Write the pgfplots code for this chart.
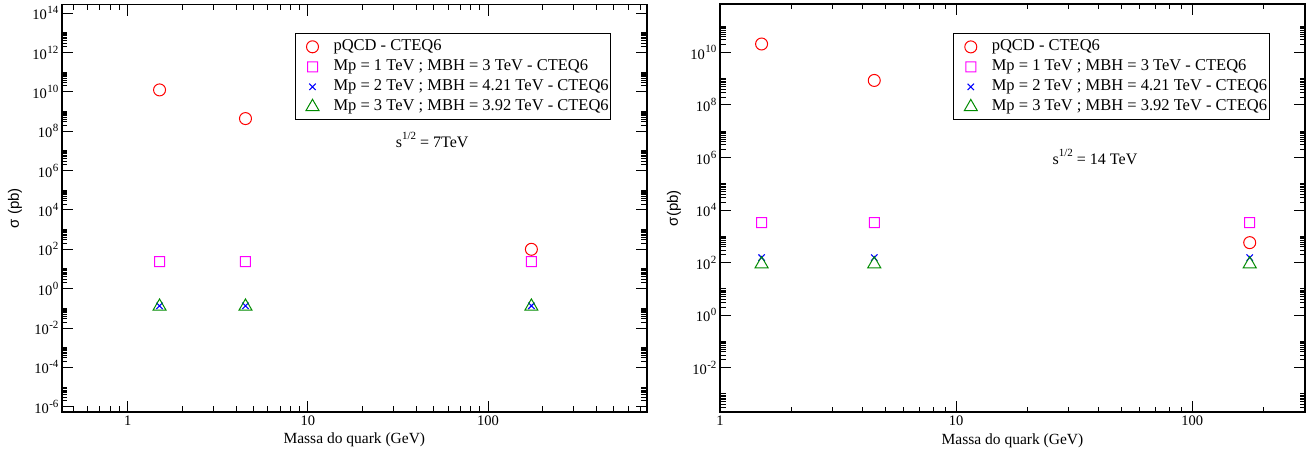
\documentclass[border=0pt]{standalone}
\usepackage{fontspec}
\setmainfont{Liberation Serif}
\newfontfamily\sansf{Liberation Sans}
\usepackage{pgfplots}
\pgfplotsset{compat=1.18}
\definecolor{xgreen}{RGB}{0,139,0}
\definecolor{xred}{RGB}{255,0,0}
\definecolor{xmag}{RGB}{255,0,255}
\definecolor{xblue}{RGB}{0,0,255}
\pgfdeclareplotmark{magsq}{%
  \pgfsetfillcolor{xmag}%
  \pgfseteorule
  \pgfpathrectangle{\pgfpoint{-5.5pt}{-5.5pt}}{\pgfpoint{11pt}{11pt}}%
  \pgfpathrectangle{\pgfpoint{-4.5pt}{-4.5pt}}{\pgfpoint{9pt}{9pt}}%
  \pgfusepathqfill}
\newcommand\tl[1]{10\raisebox{0.42em}{\fontsize{11}{11}\selectfont\kern0.5pt#1}}
\begin{document}
\begin{tikzpicture}
\useasboundingbox (0,0) rectangle (1314pt,457pt);
% ---------- left panel ----------
\begin{axis}[xmode=log, ymode=log, scale only axis,
  at={(62pt,45pt)}, anchor=south west,
  width=584.7pt, height=407.3pt,
  axis line style={line width=1.6pt},
  major tick style={line width=1pt, black}, minor tick style={line width=1pt, black},
  major tick length=11pt, minor tick length=5.5pt,
  tick align=inside,
  xtick pos=both, ytick pos=both,
  tick label style={font=\fontsize{14.5}{16}\selectfont},
  xlabel={Massa do quark (GeV)},
  xlabel style={at={(axis description cs:0.5,0)}, anchor=center, yshift=-28pt, font=\fontsize{15.5}{17}\selectfont},
  legend cell align=left,
  legend image code/.code={\path[draw=none,fill=none] (0pt,-6pt) (36pt,6pt); \draw[#1] plot coordinates {(17pt,0pt)};},
  legend style={draw=black, line width=1pt, font=\fontsize{16.5}{18}\selectfont,
    anchor=north west, inner xsep=0pt, inner ysep=4pt, row sep=2pt,
    nodes={text height=11.5pt, text depth=3.5pt, inner ysep=1.5pt},
    at={(0.3985,0.9298)}},
  xmin=0.431, xmax=760, ymin=5.4e-7, ymax=2.7e14,
  xtick={1,10,100}, xticklabels={1,10,100},
  minor xtick={0.5,0.6,0.7,0.8,0.9,2,3,4,5,6,7,8,9,20,30,40,50,60,70,80,90,200,300,400,500,600,700},
  ytick={1e-6,1e-4,1e-2,1,1e2,1e4,1e6,1e8,1e10,1e12,1e14},
  yticklabels={\tl{-6},\tl{-4},\tl{-2},\tl{0},\tl{2},\tl{4},\tl{6},\tl{8},\tl{10},\tl{12},\tl{14}},
  minor ytick={2e-6,3e-6,4e-6,5e-6,6e-6,7e-6,8e-6,9e-6,1e-5,
    2e-4,3e-4,4e-4,5e-4,6e-4,7e-4,8e-4,9e-4,1e-3,
    2e-2,3e-2,4e-2,5e-2,6e-2,7e-2,8e-2,9e-2,1e-1,
    2,3,4,5,6,7,8,9,10,
    200,300,400,500,600,700,800,900,1000,
    2e4,3e4,4e4,5e4,6e4,7e4,8e4,9e4,1e5,
    2e6,3e6,4e6,5e6,6e6,7e6,8e6,9e6,1e7,
    2e8,3e8,4e8,5e8,6e8,7e8,8e8,9e8,1e9,
    2e10,3e10,4e10,5e10,6e10,7e10,8e10,9e10,1e11,
    2e12,3e12,4e12,5e12,6e12,7e12,8e12,9e12,1e13},
  ylabel={σ (pb)},
  ylabel style={at={(axis description cs:0,0.5)}, anchor=center, yshift=47pt, font=\sansf\fontsize{15}{17}\selectfont},
]
\addplot[only marks, mark=o, mark size=6pt, color=xred, mark options={draw=xred, line width=1pt}] coordinates {(1.5,1.26e10) (4.5,4.4e8) (174,100)};
\addlegendentry{pQCD - CTEQ6}
\addplot[only marks, mark=magsq, color=xmag, mark options={fill=xmag, draw=none}] coordinates {(1.5,24) (4.5,24) (174,24)};
\addlegendentry{Mp = 1 TeV ; MBH = 3 TeV - CTEQ6}
\addplot[only marks, mark=x, mark size=4.5pt, color=xblue, mark options={draw=xblue, line width=1.1pt}] coordinates {(1.5,0.134) (4.5,0.134) (174,0.134)};
\addlegendentry{Mp = 2 TeV ; MBH = 4.21 TeV - CTEQ6}
\addplot[only marks, mark=triangle, mark size=7.5pt, color=xgreen, mark options={draw=xgreen, line width=1pt}] coordinates {(1.5,0.125) (4.5,0.125) (174,0.125)};
\addlegendentry{Mp = 3 TeV ; MBH = 3.92 TeV - CTEQ6}
\node[font=\fontsize{16}{18}\selectfont] at (rel axis cs:0.633,0.668) {s\raisebox{0.5em}{\fontsize{11}{11}\selectfont 1/2} = 7TeV};
\end{axis}
% ---------- right panel ----------
\begin{axis}[xmode=log, ymode=log, scale only axis,
  at={(720pt,44.7pt)}, anchor=south west,
  width=585pt, height=408.3pt,
  axis line style={line width=1.6pt},
  major tick style={line width=1pt, black}, minor tick style={line width=1pt, black},
  major tick length=11pt, minor tick length=5.5pt,
  tick align=inside,
  xtick pos=both, ytick pos=both,
  tick label style={font=\fontsize{14.5}{16}\selectfont},
  xlabel={Massa do quark (GeV)},
  xlabel style={at={(axis description cs:0.5,0)}, anchor=center, yshift=-28pt, font=\fontsize{15.5}{17}\selectfont},
  legend cell align=left,
  legend image code/.code={\path[draw=none,fill=none] (0pt,-6pt) (36pt,6pt); \draw[#1] plot coordinates {(17pt,0pt)};},
  legend style={draw=black, line width=1pt, font=\fontsize{16.5}{18}\selectfont,
    anchor=north west, inner xsep=0pt, inner ysep=4pt, row sep=2pt,
    nodes={text height=11.5pt, text depth=3.5pt, inner ysep=1.5pt},
    at={(0.3988,0.928)}},
  xmin=1, xmax=300, ymin=2e-4, ymax=7e11,
  xtick={1,10,100}, xticklabels={1,10,100},
  minor xtick={2,3,4,5,6,7,8,9,20,30,40,50,60,70,80,90,200},
  ytick={1e-2,1,1e2,1e4,1e6,1e8,1e10},
  yticklabels={\tl{-2},\tl{0},\tl{2},\tl{4},\tl{6},\tl{8},\tl{10}},
  minor ytick={3e-4,4e-4,5e-4,6e-4,7e-4,8e-4,9e-4,1e-3,
    2e-2,3e-2,4e-2,5e-2,6e-2,7e-2,8e-2,9e-2,1e-1,
    2,3,4,5,6,7,8,9,10,
    200,300,400,500,600,700,800,900,1000,
    2e4,3e4,4e4,5e4,6e4,7e4,8e4,9e4,1e5,
    2e6,3e6,4e6,5e6,6e6,7e6,8e6,9e6,1e7,
    2e8,3e8,4e8,5e8,6e8,7e8,8e8,9e8,1e9,
    2e10,3e10,4e10,5e10,6e10,7e10,8e10,9e10,1e11},
  ylabel={σ(pb)},
  ylabel style={at={(axis description cs:0,0.5)}, anchor=center, yshift=46pt, font=\sansf\fontsize{15}{17}\selectfont},
]
\addplot[only marks, mark=o, mark size=6pt, color=xred, mark options={draw=xred, line width=1pt}] coordinates {(1.5,2.1e10) (4.5,8.6e8) (175,575)};
\addlegendentry{pQCD - CTEQ6}
\addplot[only marks, mark=magsq, color=xmag, mark options={fill=xmag, draw=none}] coordinates {(1.5,3300) (4.5,3300) (175,3300)};
\addlegendentry{Mp = 1 TeV ; MBH = 3 TeV - CTEQ6}
\addplot[only marks, mark=x, mark size=4.5pt, color=xblue, mark options={draw=xblue, line width=1.1pt}] coordinates {(1.5,155) (4.5,155) (175,155)};
\addlegendentry{Mp = 2 TeV ; MBH = 4.21 TeV - CTEQ6}
\addplot[only marks, mark=triangle, mark size=7.5pt, color=xgreen, mark options={draw=xgreen, line width=1pt}] coordinates {(1.5,88) (4.5,88) (175,88)};
\addlegendentry{Mp = 3 TeV ; MBH = 3.92 TeV - CTEQ6}
\node[font=\fontsize{16}{18}\selectfont] at (rel axis cs:0.641,0.625) {s\raisebox{0.5em}{\fontsize{11}{11}\selectfont 1/2} = 14 TeV};
\end{axis}
\end{tikzpicture}
\end{document}
